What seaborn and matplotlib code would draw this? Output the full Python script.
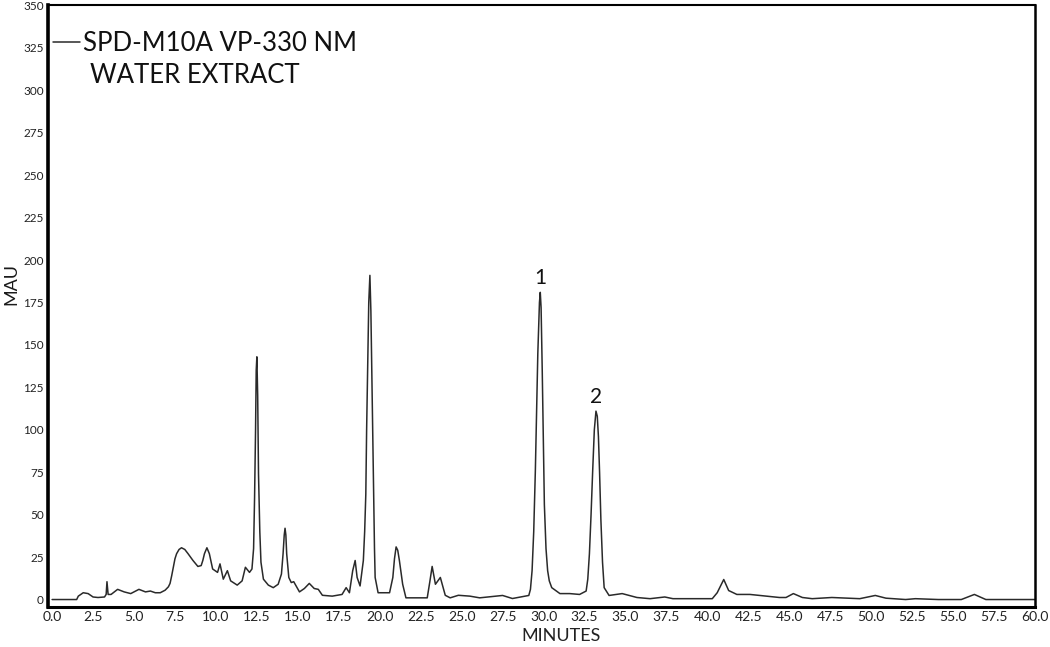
import matplotlib
matplotlib.use("Agg")
import matplotlib.pyplot as plt
import seaborn as sns

# ---- data (minutes, mAU) ----
minutes = [0.0, 1.5, 1.6, 1.9, 2.2, 2.5, 2.8, 3.2, 3.3, 3.35, 3.42, 3.6, 4.0, 4.4, 4.8,
           5.3, 5.7, 6.0, 6.3, 6.6, 6.9, 7.1, 7.2, 7.3, 7.4, 7.5, 7.6, 7.75, 7.9, 8.1,
           8.3, 8.6, 8.9, 9.1, 9.2, 9.3,
           9.45, 9.6, 9.8, 10.1, 10.25, 10.45, 10.7, 10.9, 11.3, 11.6, 11.8, 12.05, 12.2,
           12.3, 12.36, 12.42, 12.46, 12.5, 12.55, 12.6, 12.68, 12.75, 12.9, 13.2, 13.5,
           13.8, 14.0, 14.1, 14.17, 14.22, 14.27, 14.32,
           14.45, 14.6, 14.75, 15.1, 15.4, 15.7, 16.0, 16.25, 16.5, 17.1, 17.7, 17.95,
           18.15, 18.35, 18.5, 18.62, 18.8, 19.0, 19.08, 19.15, 19.2, 19.27, 19.33, 19.4,
           19.46, 19.52, 19.57, 19.62, 19.68, 19.72,
           19.9, 20.6, 20.8, 20.9, 21.0, 21.1, 21.2, 21.4, 21.6, 22.9, 23.05, 23.2, 23.4,
           23.7, 24.0, 24.3, 24.8, 25.5, 26.1, 27.5, 28.1, 29.1, 29.2, 29.3, 29.4, 29.5,
           29.65, 29.75, 29.8, 29.85, 29.92, 30.05, 30.15,
           30.25, 30.35, 30.5, 31.0, 31.6, 32.2, 32.6, 32.7, 32.8, 32.9, 33.0, 33.1, 33.2,
           33.28, 33.35, 33.42, 33.5, 33.6, 33.7, 34.0,
           34.8, 35.7, 36.5, 37.4, 37.9, 40.3, 40.6, 41.0, 41.3, 41.8, 42.6, 43.6, 44.4,
           44.8, 45.25, 45.8, 46.4, 47.6, 49.3, 50.25, 50.9, 52.1, 52.7, 54.1, 55.5, 56.3,
           57.0, 58.2, 60.0]
mau = [0, 0, 2, 4, 3.5, 1.5, 1.2, 1.5, 3, 10.5, 3, 3, 6, 4.5, 3.5,
       6, 4.5, 5, 4, 4, 5.5, 7.5, 9.5, 14, 19, 24, 27, 29.5, 30.5, 29.5,
       27, 23, 19.5, 20, 23, 27,
       30.5, 27, 18, 16, 21, 12, 17, 11, 8.5, 11, 19, 16, 18,
       30, 60, 100, 135, 143, 120, 74, 40, 22, 12, 8.5, 7,
       9, 15, 27, 38, 42, 38, 27,
       13, 10, 10.5, 4.5, 6.5, 9.5, 6.5, 6, 2.5, 2, 3, 7,
       4, 17, 23, 13, 8, 23, 40, 62, 100, 141, 175, 191,
       170, 131, 95, 62, 30, 13,
       4, 4, 13, 24, 31, 29, 23, 9, 1, 1, 10, 19.5, 9,
       13, 2.5, 1, 2.5, 2, 1, 2.4, 0.6, 2.4, 6, 17, 40, 76,
       145, 175, 181, 172, 135, 56, 30,
       17, 11, 7, 3.5, 3.5, 3, 5, 12, 27, 50, 76, 100, 111,
       108, 96, 75, 47, 22, 7, 2.4,
       3.5, 1.2, 0.5, 1.5, 0.5, 0.5, 4, 11.8, 5.3, 3, 3, 2, 1.2,
       1.2, 3.5, 1.2, 0.5, 1.2, 0.5, 2.4, 0.8, 0, 0.5, 0, 0, 3,
       0, 0, 0]

peak_labels = ["1", "2"]
peak_times = [29.8, 33.2]
peak_heights = [181, 111]

x_ticks = [i * 2.5 for i in range(25)]
y_ticks = list(range(0, 351, 25))

series_label = "SPD-M10A VP-330 NM"
sample_label = "WATER EXTRACT"

# ---- style ----
sns.set_style("white")
plt.rcParams["font.family"] = ["Lato", "DejaVu Sans"]

fig = plt.figure(figsize=(10.5, 6.47), dpi=100)
ax = fig.add_axes([48 / 1050, 1 - 607 / 647, (1035 - 48) / 1050, (607 - 5) / 647])

sns.lineplot(x=minutes, y=mau, ax=ax, color="#2a2a2a", linewidth=1.1,
             label=series_label, sort=True)

ax.set_xlim(-0.25, 60)
ax.set_ylim(-4.4, 350.3)
ax.set_xticks(x_ticks)
ax.set_xticklabels([f"{v:.1f}" for v in x_ticks], fontsize=10, color="#222222")
ax.set_yticks(y_ticks)
ax.set_yticklabels([str(v) for v in y_ticks], fontsize=8.5, color="#222222")
ax.tick_params(axis="both", length=0, pad=3)

ax.set_xlabel("MINUTES", fontsize=13, color="#222222", labelpad=1)
ax.xaxis.set_label_coords(0.52, -0.035)
ax.set_ylabel("MAU", fontsize=13, color="#1a1a1a", labelpad=2)
ax.yaxis.set_label_coords(-0.029, 0.537)

for side, lw in [("left", 2.6), ("bottom", 2.2), ("top", 1.5), ("right", 1.8)]:
    ax.spines[side].set_visible(True)
    ax.spines[side].set_linewidth(lw)
    ax.spines[side].set_color("#000000")

for lab, t, h in zip(peak_labels, peak_times, peak_heights):
    ax.annotate(lab, xy=(t, h), xytext=(0, 3), textcoords="offset points",
                ha="center", va="bottom", fontsize=15, color="#111111")

leg = ax.legend(loc="upper left", bbox_to_anchor=(0.005, 0.956), frameon=False,
                handlelength=1.05, handletextpad=0.12, borderaxespad=0,
                borderpad=0, prop={"size": 18.5})
for txt in leg.get_texts():
    txt.set_color("#111111")

ax.text(0.043, 0.883, sample_label, transform=ax.transAxes, fontsize=18.5,
        color="#111111", ha="left", va="center")

fig.savefig("out.png", dpi=100)
